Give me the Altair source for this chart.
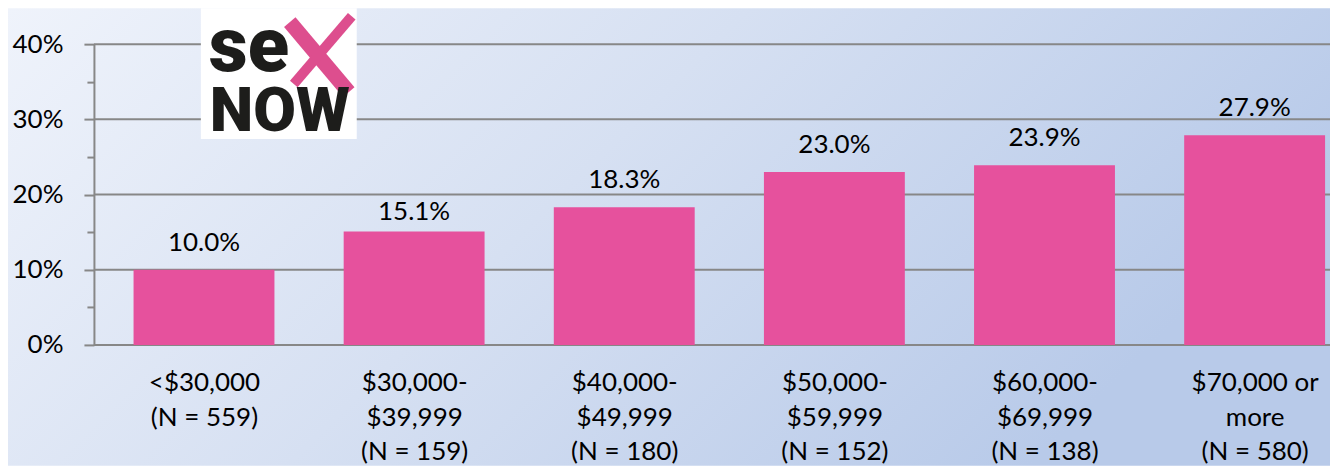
import altair as alt
import pandas as pd

# ---- data ----
categories = [
    "<$30,000|(N = 559)",
    "$30,000-|$39,999|(N = 159)",
    "$40,000-|$49,999|(N = 180)",
    "$50,000-|$59,999|(N = 152)",
    "$60,000-|$69,999|(N = 138)",
    "$70,000 or|more|(N = 580)",
]
values = [10.0, 15.1, 18.3, 23.0, 23.9, 27.9]
grid_values = [0, 10, 20, 30, 40]
tick_values = [0, 5, 10, 15, 20, 25, 30, 35, 40]
logo_words = ["se", "NOW"]

# ---- style ----
W, H = 1237, 301
BOTTOM = 422
FONT = "Gill Sans MT, Gill Sans, Lato, sans-serif"
LOGO_FONT = "Roboto, sans-serif"
PINK = "#E6519D"
GRID = "#878787"

df = pd.DataFrame({"idx": list(range(len(categories))), "cat": categories, "value": values})
cats_js = "#".join(categories)

x_enc = alt.X(
    "idx:Q",
    scale=alt.Scale(domain=[-0.5, 5.3349], nice=False, zero=False),
    axis=alt.Axis(
        title=None, domain=False, ticks=False, grid=False, labelAngle=0,
        values=list(range(len(categories))),
        labelExpr=f"split(split('{cats_js}', '#')[datum.value], '|')",
        labelFont=FONT, labelFontSize=26, labelColor="black",
        labelLineHeight=34.5, labelPadding=25, labelBaseline="top",
        labelOverlap=False, labelFlush=False, labelLimit=400, zindex=1,
    ),
)

y_axis = alt.Axis(
    title=None, values=tick_values, grid=False,
    labelExpr="datum.value % 10 == 0 ? datum.value + '%' : ''",
    tickSize={"condition": {"test": "datum.value % 10 == 0", "value": 10}, "value": 7},
    tickColor=GRID, tickWidth=2, domainColor=GRID, domainWidth=2,
    labelFont=FONT, labelFontSize=26, labelColor="black",
    labelPadding=21, labelOverlap=False, zindex=1,
)
y_scale = alt.Scale(domain=[0, 40], nice=False)
y_enc = alt.Y("value:Q", scale=y_scale, axis=y_axis)

bg = alt.Chart(pd.DataFrame({"k": [0]})).mark_rect(
    color=alt.LinearGradient(
        gradient="linear",
        stops=[
            alt.GradientStop(color="#EFF3FB", offset=0),
            alt.GradientStop(color="#D6E0F2", offset=0.5),
            alt.GradientStop(color="#B8CAE9", offset=1),
        ],
        x1=0, y1=0, x2=1, y2=0.35,
    )
).encode(x=alt.value(-86), x2=alt.value(W), y=alt.value(-36), y2=alt.value(BOTTOM))

grid = alt.Chart(pd.DataFrame({"value": grid_values})).mark_rule(
    color=GRID, strokeWidth=2
).encode(y=y_enc, x=alt.value(0), x2=alt.value(W))

bars = alt.Chart(df).mark_bar(color=PINK, size=141).encode(x=x_enc, y=y_enc)

label_base = alt.Chart(df).transform_calculate(
    label="format(datum.value, '.1f') + '%'"
)
labels_main = label_base.transform_filter("datum.idx != 1").mark_text(
    dy=-19, baseline="alphabetic", font=FONT, fontSize=26, color="black"
).encode(x=x_enc, y=y_enc, text="label:N")
labels_low = label_base.transform_filter("datum.idx == 1").mark_text(
    dy=-11, baseline="alphabetic", font=FONT, fontSize=26, color="black"
).encode(x=x_enc, y=y_enc, text="label:N")

logo_box = alt.Chart(pd.DataFrame({"k": [0]})).mark_rect(color="white").encode(
    x=alt.value(107), x2=alt.value(263), y=alt.value(-36), y2=alt.value(95)
)
logo_se = alt.Chart(pd.DataFrame({"t": [logo_words[0]]})).mark_text(
    font=LOGO_FONT, fontWeight=900, fontSize=76, align="left",
    baseline="alphabetic", color="#1D1D1B"
).encode(x=alt.value(115), y=alt.value(27), text="t:N")
logo_x1 = alt.Chart(pd.DataFrame({"k": [0]})).mark_rule(
    color="#DD4E8E", strokeWidth=15, strokeCap="butt"
).encode(x=alt.value(196), y=alt.value(-22), x2=alt.value(255), y2=alt.value(48))
logo_x2 = alt.Chart(pd.DataFrame({"k": [0]})).mark_rule(
    color="#DD4E8E", strokeWidth=10, strokeCap="butt"
).encode(x=alt.value(258), y=alt.value(-28), x2=alt.value(200), y2=alt.value(40))
logo_now = alt.Chart(pd.DataFrame({"t": [logo_words[1]]})).mark_text(
    font=LOGO_FONT, fontWeight=900, fontSize=62, align="left",
    baseline="alphabetic", color="#1D1D1B"
).encode(x=alt.value(116), y=alt.value(87), text="t:N")

chart = alt.layer(
    bg, grid, bars, labels_main, labels_low,
    logo_box, logo_se, logo_x1, logo_x2, logo_now
).properties(width=W, height=H, padding=0).configure_view(stroke=None)

chart.save("out.html", embed_options={"renderer": "svg", "actions": False})
